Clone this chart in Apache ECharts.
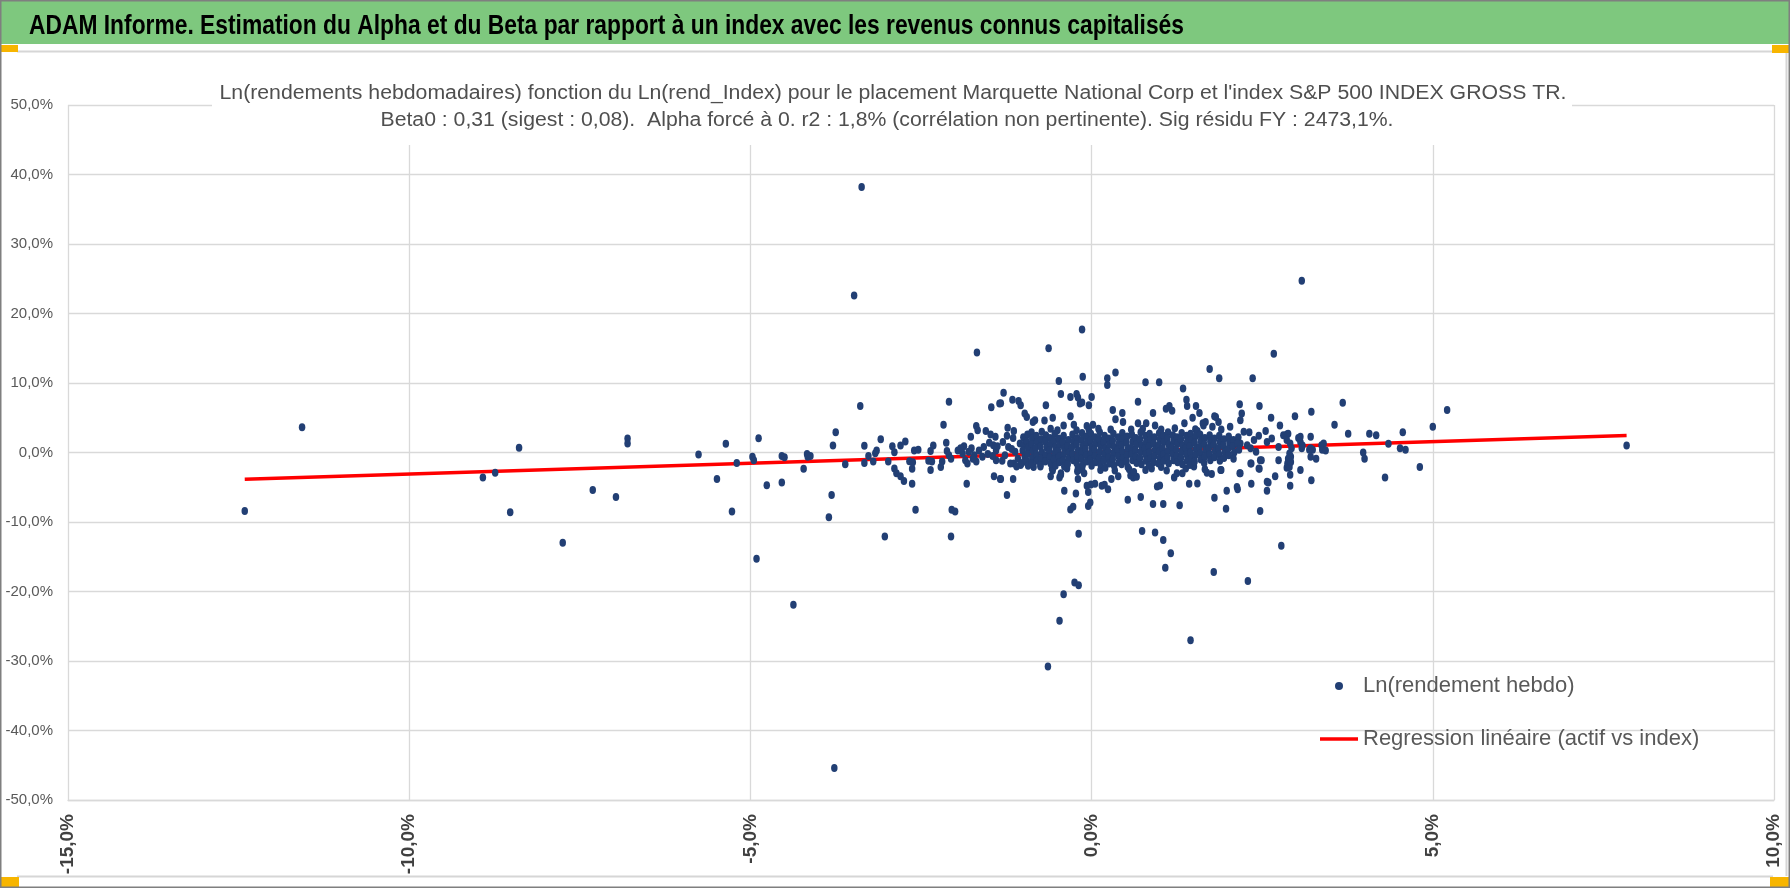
<!DOCTYPE html>
<html>
<head>
<meta charset="utf-8">
<title>ADAM Informe - Alpha et Beta</title>
<script src="https://cdn.jsdelivr.net/npm/echarts@6/dist/echarts.min.js"></script>
<style>
  html, body { margin: 0; padding: 0; background: #fff; }
  #chart { width: 1790px; height: 888px; }
</style>
</head>
<body>
<div id="chart"></div>
<script>
// texts
const headerTitle = 'ADAM Informe. Estimation du Alpha et du Beta par rapport à un index avec les revenus connus capitalisés';
const subtitleLines = [
  "Ln(rendements hebdomadaires) fonction du Ln(rend_Index) pour le placement Marquette National Corp et l'index S&P 500 INDEX GROSS TR.",
  "Beta0 : 0,31 (sigest : 0,08).  Alpha forcé à 0. r2 : 1,8% (corrélation non pertinente). Sig résidu FY : 2473,1%."
];
const pointsName = 'Ln(rendement hebdo)';
const lineName = 'Regression linéaire (actif vs index)';

// axes (in %)
const xMin = -15, xMax = 10, xStep = 5;
const yMin = -50, yMax = 50, yStep = 10;

// regression line ends (x %, y %)
const regressionLine = [[-12.41, -3.85], [7.84, 2.43]];

// isolated points, [index %, asset %]
const farPoints = [
  [-12.41,-8.4],[-11.57,3.65],[-8.92,-3.6],[-8.74,-2.9],[-8.39,0.67],[-8.52,-8.6],[-7.75,-13.0],
  [-7.31,-5.4],[-6.97,-6.4],[-6.80,2.0],[-6.80,1.3],[-5.76,-0.3],[7.84,1.0],
  [-3.37,38.2],[-3.48,22.6],[3.08,24.7],[-0.14,17.7],[-1.68,14.4],[-0.63,15.0],[2.67,14.2],
  [-4.91,-15.3],[-3.03,-12.1],[-2.06,-12.1],[-0.19,-11.7],[0.74,-11.3],[0.93,-11.5],[1.05,-12.6],
  [1.16,-14.5],[1.08,-16.6],[1.79,-17.2],[2.29,-18.5],[2.78,-13.4],[-4.37,-21.9],[-0.25,-18.7],
  [-0.19,-19.1],[-0.41,-20.4],[-0.47,-24.2],[1.45,-27.0],[-0.64,-30.8],[-3.77,-45.4]
];

// points between -5,5% and -1,3% of the index
const leftPoints = [
  [-5.36,1.25],[-5.49,-3.8],[-5.27,-8.5],[-5.20,-1.5],[-4.97,-0.6],[-4.95,-1.1],[-4.88,2.06],[-4.76,-4.7],
  [-4.54,-0.5],[-4.50,-0.7],[-4.54,-4.3],[-4.22,-2.35],[-4.17,-0.2],[-4.12,-0.5],[-4.16,-0.6],[-3.85,-9.3],
  [-3.81,-6.1],[-3.79,1.0],[-3.75,2.9],[-3.61,-1.7],[-3.39,6.7],[-3.33,0.96],[-3.33,-1.5],[-3.27,-0.5],
  [-3.20,-1.3],[-3.17,-0.1],[-3.15,0.3],[-3.09,1.9],[-2.98,-1.3],[-2.92,0.9],[-2.89,0.05],[-2.89,-2.3],
  [-2.86,-3.0],[-2.80,-3.4],[-2.75,-4.1],[-2.80,1.0],[-2.73,1.6],[-2.67,-1.25],[-2.63,-2.35],[-2.63,-4.5],
  [-2.62,-1.4],[-2.60,0.3],[-2.54,0.4],[-2.58,-8.25],[-2.39,-1.2],[-2.36,0.2],[-2.36,-2.5],[-2.34,-1.3],
  [-2.32,1.0],[-2.21,-2.1],[-2.19,-1.3],[-2.17,4.0],[-2.13,1.4],[-2.09,7.3],[-2.12,0.2],[-2.09,-0.4],
  [-2.06,-0.9],[-2.05,-8.25],[-2.00,-8.5],[-1.96,0.3],[-1.89,-0.15],[-1.87,0.9],[-1.85,-1.1],[-1.83,-4.5],
  [-1.82,-1.6],[-1.77,2.25],[-1.76,0.6],[-1.72,-0.4],[-1.69,3.8],[-1.67,3.2],[-1.69,-1.3],[-1.65,0.3],
  [-1.60,-0.6],[-1.55,3.1],[-1.48,2.6],[-1.47,6.5],[-1.41,2.25],[-1.44,1.05],[-1.40,0.3],[-1.43,-3.4],
  [-1.35,7.05],[-1.34,-3.8],[-1.40,-1.1],[-1.92,0.6],[-1.80,0.1],[-1.74,-0.9],[-1.58,0.8],[-1.52,-0.2],
  [-1.50,1.4],[-1.45,-0.5],[-1.38,0.9]
];

// points around the centre, outside the dense band
const centrePoints = [
  [-0.48,10.3],[-0.13,10.9],[0.23,10.7],[0.23,9.7],[0.35,11.5],[0.79,10.1],[0.99,10.1],[1.73,12.0],
  [1.87,10.7],[2.36,10.7],[1.34,9.2],[-1.29,8.6],[-1.33,7.1],[-0.45,8.4],[-0.31,8.0],[-0.22,8.4],
  [-0.20,7.9],[-0.17,7.05],[-0.14,7.2],[-0.04,6.8],[0.0,8.0],[-1.16,7.6],[-1.07,7.4],[-1.04,6.8],
  [-0.67,6.8],[0.68,7.3],[1.39,7.6],[1.40,6.7],[1.14,6.7],[1.09,6.3],[1.18,6.0],[1.53,6.7],
  [2.17,6.95],[2.46,6.7],[0.31,6.1],[0.45,5.7],[0.90,5.7],[1.58,5.7],[1.80,5.2],[2.20,5.6],
  [2.18,4.65],[2.98,5.2],[2.63,5.0],[-0.98,5.6],[-0.95,5.1],[-0.86,4.4],[-0.83,4.65],[-0.69,4.6],
  [-0.57,5.0],[-0.31,5.2],[0.35,4.8],[0.46,4.4],[0.68,4.2],[0.80,4.2],[0.93,3.9],[1.36,4.2],
  [1.48,5.0],[1.63,4.2],[1.67,4.4],[1.86,4.4],[1.77,3.7],[1.90,3.3],[2.03,3.7],[2.31,2.9],
  [2.55,3.1],[2.76,3.9],[2.86,2.6],[3.03,2.1],[-1.23,3.55],[-1.14,3.1],[-0.88,2.9],[-0.73,3.0],
  [-0.41,3.9],[-0.26,4.0],[-0.22,3.2],[-0.07,3.8],[0.02,4.0],[-0.04,3.2],[1.52,3.35],[1.64,3.9],
  [1.82,5.1],[2.88,2.7],[2.23,3.0],[-0.60,3.4],[-0.50,3.2],[0.10,3.4],[0.28,3.3],[0.58,3.3],
  [0.75,3.4],[1.02,3.3],[1.22,3.5],[1.55,3.1],
  [-1.33,-3.8],[-1.15,-3.8],[-1.24,-6.1],[-0.60,-3.4],[-0.57,-2.3],[-0.47,-3.6],[-0.45,-3.0],[-0.40,-5.5],
  [-0.23,-5.9],[-0.20,-3.8],[-0.31,-8.2],[-0.27,-7.8],[-0.07,-4.8],[-0.01,-4.6],[-0.05,-5.7],[-0.05,-7.7],
  [-0.02,-7.2],[0.05,-4.5],[0.15,-4.8],[0.19,-4.65],[0.24,-5.3],[0.29,-3.8],[0.39,-3.4],[0.13,-2.5],
  [0.53,-6.8],[0.61,-3.6],[0.66,-3.5],[0.72,-6.4],[0.90,-7.4],[0.96,-4.9],[1.00,-4.75],[1.05,-7.4],
  [1.21,-3.6],[1.25,-3.0],[1.33,-3.0],[1.29,-7.6],[1.43,-4.5],[1.55,-4.45],[1.66,-2.4],[1.69,-2.9],
  [1.76,-3.1],[1.80,-6.5],[1.90,-2.5],[1.98,-5.5],[1.97,-8.1],[2.14,-5.3],[2.17,-3.0],[2.34,-4.5],
  [2.34,-1.6],[2.47,-8.4],[2.46,-2.35],[2.49,-1.1],[2.57,-5.5],[2.59,-4.3],[2.69,-3.4],[2.86,-2.2],
  [2.91,-4.8],[2.91,-3.2],[2.89,-1.1],[2.92,-0.6],[2.74,-1.1],[-0.58,-2.3],[-0.45,-3.2],[-0.21,-2.7],
  [0.57,-3.3],[0.79,-2.5],[-1.14,-1.6],[-1.04,-1.8],[-0.85,-2.1],[-0.75,-2.0],[-0.57,-2.6],[-0.55,-1.6],
  [-0.36,-2.3],[-0.19,-2.5],[-0.14,-2.3],[-0.11,-3.0],[0.34,-2.6],[0.55,-2.4],[0.62,-2.8],[0.88,-2.3],
  [1.02,-2.1],[1.10,-2.6],[1.38,-2.3],[1.50,-2.0]
];

// right side, above 2% of the index
const rightPoints = [
  [2.18,1.3],[2.28,1.05],[2.33,0.6],[2.41,0.1],[2.38,1.8],[2.45,2.4],[2.57,1.5],[2.64,2.0],
  [2.74,0.8],[2.81,2.5],[2.86,1.8],[2.91,1.3],[2.93,0.6],[2.90,-0.15],[2.88,-0.9],[2.87,-1.6],
  [2.90,-2.1],[2.92,-1.35],[3.06,1.5],[3.08,0.6],[3.21,0.6],[2.33,-1.6],[2.47,-1.1],[2.45,-2.3],
  [2.18,-3.0],[1.89,-2.5],[2.13,-4.95],[2.57,-4.2],
  [3.06,2.25],[3.09,1.0],[3.06,-2.5],[3.22,5.85],[3.21,2.25],[3.19,0.4],[3.24,0.4],[3.21,-0.6],
  [3.29,-0.9],[3.22,-4.0],[3.37,1.05],[3.40,1.3],[3.38,0.4],[3.43,0.3],[3.56,4.0],[3.68,7.15],
  [3.76,2.7],[3.98,0.0],[4.00,-0.9],[4.07,2.7],[4.17,2.5],[4.30,-3.6],[4.35,1.25],[4.52,0.6],
  [4.60,0.4],[4.56,2.9],[4.81,-2.1],[5.00,3.7],[5.21,6.1]
];

// dense band near zero (estimated, it is a solid mass in the picture)
const bandPoints = [
  [-1.30,1.5],[-1.27,-0.4],[-1.22,0.8],[-1.19,-1.6],[-1.15,2.1],[-1.12,0.1],[-1.08,-0.9],[-1.05,1.3],
  [-1.31,-1.2],[-1.24,2.4],[-1.10,-2.0],[-1.17,0.5],
  [-1.00,2.2],[-0.99,1.1],[-1.01,0.3],[-0.98,-0.6],[-1.02,-1.5],
  [-0.94,2.6],[-0.95,1.6],[-0.93,0.7],[-0.94,-0.2],[-0.95,-1.2],[-0.93,-1.9],
  [-0.87,2.0],[-0.88,1.2],[-0.86,0.2],[-0.87,-0.8],[-0.88,-1.6],
  [-0.81,2.4],[-0.80,1.5],[-0.82,0.6],[-0.81,-0.3],[-0.80,-1.2],
  [-0.74,1.9],[-0.75,0.9],[-0.73,0.0],[-0.74,-0.9],[-0.75,-1.8],
  [-0.67,2.5],[-0.68,1.6],[-0.66,0.7],[-0.67,-0.4],[-0.68,-1.3],
  [-0.61,2.1],[-0.60,1.2],[-0.62,0.3],[-0.61,-0.7],[-0.60,-1.6],
  [-0.54,2.7],[-0.55,1.7],[-0.53,0.8],[-0.54,-0.1],[-0.55,-1.0],[-0.53,-1.9],
  [-0.48,2.0],[-0.47,1.1],[-0.49,0.2],[-0.48,-0.6],[-0.47,-1.4],
  [-0.41,2.4],[-0.42,1.5],[-0.40,0.6],[-0.41,-0.3],[-0.42,-1.2],[-0.40,-2.0],
  [-0.34,1.8],[-0.35,0.9],[-0.33,0.0],[-0.34,-0.9],[-0.35,-1.7],
  [-0.28,2.6],[-0.27,1.6],[-0.29,0.7],[-0.28,-0.2],[-0.27,-1.1],
  [-0.21,2.1],[-0.22,1.2],[-0.20,0.3],[-0.21,-0.6],[-0.22,-1.5],[-0.20,-2.1],
  [-0.14,2.8],[-0.15,1.8],[-0.13,0.9],[-0.14,0.0],[-0.15,-0.9],[-0.13,-1.8],
  [-0.08,2.3],[-0.07,1.4],[-0.09,0.5],[-0.08,-0.4],[-0.07,-1.3],
  [-0.01,2.7],[-0.02,1.7],[0.00,0.8],[-0.01,-0.1],[-0.02,-1.0],[0.00,-1.9],
  [0.05,2.2],[0.06,1.3],[0.04,0.4],[0.05,-0.5],[0.06,-1.4],
  [0.12,2.9],[0.11,1.9],[0.13,1.0],[0.12,0.1],[0.11,-0.8],[0.13,-1.7],
  [0.19,2.4],[0.18,1.5],[0.20,0.6],[0.19,-0.3],[0.18,-1.2],[0.20,-2.2],
  [0.25,2.0],[0.26,1.1],[0.24,0.2],[0.25,-0.7],[0.26,-1.6],
  [0.32,2.7],[0.31,1.7],[0.33,0.8],[0.32,-0.1],[0.31,-1.0],[0.33,-1.9],
  [0.39,2.2],[0.40,1.3],[0.38,0.4],[0.39,-0.5],[0.40,-1.4],
  [0.45,2.8],[0.46,1.9],[0.44,1.0],[0.45,0.1],[0.46,-0.8],[0.44,-1.7],
  [0.52,2.3],[0.51,1.4],[0.53,0.5],[0.52,-0.4],[0.51,-1.3],[0.53,-2.1],
  [0.59,2.6],[0.60,1.6],[0.58,0.7],[0.59,-0.2],[0.60,-1.1],
  [0.65,2.1],[0.66,1.2],[0.64,0.3],[0.65,-0.6],[0.66,-1.5],
  [0.72,2.9],[0.71,1.9],[0.73,1.0],[0.72,0.1],[0.71,-0.8],[0.73,-1.7],
  [0.79,2.4],[0.80,1.5],[0.78,0.6],[0.79,-0.3],[0.80,-1.2],
  [0.85,2.7],[0.86,1.8],[0.84,0.9],[0.85,0.0],[0.86,-0.9],[0.84,-1.9],
  [0.92,2.2],[0.91,1.3],[0.93,0.4],[0.92,-0.5],[0.91,-1.4],
  [0.99,2.8],[1.00,1.9],[0.98,1.0],[0.99,0.1],[1.00,-0.8],[0.98,-1.6],
  [1.05,2.4],[1.06,1.5],[1.04,0.6],[1.05,-0.3],[1.06,-1.2],
  [1.12,2.9],[1.11,2.0],[1.13,1.1],[1.12,0.2],[1.11,-0.7],[1.13,-1.6],
  [1.19,2.5],[1.20,1.6],[1.18,0.7],[1.19,-0.2],[1.20,-1.1],
  [1.25,2.2],[1.26,1.3],[1.24,0.4],[1.25,-0.5],[1.26,-1.4],
  [1.32,2.8],[1.31,1.9],[1.33,1.0],[1.32,0.1],[1.31,-0.8],[1.33,-1.7],
  [1.39,2.4],[1.40,1.5],[1.38,0.6],[1.39,-0.3],[1.40,-1.2],
  [1.45,2.7],[1.46,1.8],[1.44,0.9],[1.45,0.0],[1.46,-0.9],[1.44,-1.8],
  [1.52,2.3],[1.51,1.4],[1.53,0.5],[1.52,-0.4],[1.51,-1.3],
  [1.59,2.6],[1.60,1.7],[1.58,0.8],[1.59,-0.1],[1.60,-1.0],
  [1.66,2.1],[1.65,1.2],[1.67,0.3],[1.66,-0.6],[1.65,-1.5],
  [1.73,2.5],[1.74,1.6],[1.72,0.7],[1.73,-0.2],[1.74,-1.1],
  [1.80,2.0],[1.79,1.1],[1.81,0.2],[1.80,-0.7],
  [1.87,2.4],[1.88,1.5],[1.86,0.6],[1.87,-0.3],[1.88,-1.2],
  [1.94,1.9],[1.93,1.0],[1.95,0.1],[1.94,-0.8],
  [2.01,2.3],[2.02,1.4],[2.00,0.5],[2.01,-0.4],
  [2.08,1.8],[2.07,0.9],[2.09,0.0],[2.08,-0.9],
  [2.15,2.2],[2.14,1.3],[2.16,0.4]
];

const allPoints = farPoints.concat(leftPoints, centrePoints, rightPoints, bandPoints);

function pct(v) {
  return v.toFixed(1).replace('.', ',') + '%';
}

// horizontal scale so a text fills the width it has in the picture
const measureCtx = document.createElement('canvas').getContext('2d');
function fitScale(text, font, width) {
  measureCtx.font = font;
  return width / measureCtx.measureText(text).width;
}

const headerFont = "bold 28px 'Liberation Sans', sans-serif";
const subFont = "20px 'Liberation Sans', sans-serif";

var dom = document.getElementById('chart');
var myChart = echarts.init(dom, null, { renderer: 'canvas' });

var option = {
  backgroundColor: '#ffffff',
  animation: false,
  graphic: [
    { type: 'rect', z: 0, shape: { x: 0, y: 0, width: 1790, height: 44 }, style: { fill: '#7ec87e' } },
    {
      type: 'text', z: 1, x: 29, y: 26,
      scaleX: fitScale(headerTitle, headerFont, 1155),
      style: { text: headerTitle, font: headerFont, fill: '#000000', textAlign: 'left', textVerticalAlign: 'middle' }
    },
    { type: 'line', z: 1, shape: { x1: 17, y1: 51.5, x2: 1773, y2: 51.5 }, style: { stroke: '#d6d6d6', lineWidth: 2 } },
    { type: 'line', z: 1, shape: { x1: 17, y1: 876.5, x2: 1773, y2: 876.5 }, style: { stroke: '#d6d6d6', lineWidth: 2 } },
    { type: 'line', z: 1, shape: { x1: 1786.5, y1: 53, x2: 1786.5, y2: 876 }, style: { stroke: '#d6d6d6', lineWidth: 2 } },
    { type: 'rect', z: 1, shape: { x: 0, y: 45, width: 18, height: 7 }, style: { fill: '#f7b500' } },
    { type: 'rect', z: 1, shape: { x: 1772, y: 45, width: 18, height: 8 }, style: { fill: '#f7b500' } },
    { type: 'rect', z: 1, shape: { x: 0, y: 877, width: 19, height: 11 }, style: { fill: '#f7b500' } },
    { type: 'rect', z: 1, shape: { x: 1770, y: 877, width: 20, height: 11 }, style: { fill: '#f7b500' } },
    { type: 'rect', z: 2, shape: { x: 0.75, y: 0.75, width: 1788.5, height: 886.5 }, style: { fill: null, stroke: '#7f7f7f', lineWidth: 1.5 } },
    // white box of the chart title, over the grid lines
    { type: 'rect', z: 5, shape: { x: 212, y: 58, width: 1360, height: 87 }, style: { fill: '#ffffff' } },
    {
      type: 'text', z: 6, x: 893, y: 93,
      scaleX: fitScale(subtitleLines[0], subFont, 1347),
      style: { text: subtitleLines[0], font: subFont, fill: '#4f4f4f', textAlign: 'center', textVerticalAlign: 'middle' }
    },
    {
      type: 'text', z: 6, x: 887, y: 120,
      scaleX: fitScale(subtitleLines[1], subFont, 1013),
      style: { text: subtitleLines[1], font: subFont, fill: '#4f4f4f', textAlign: 'center', textVerticalAlign: 'middle' }
    }
  ],
  legend: {
    orient: 'vertical',
    left: 1315,
    top: 670,
    itemWidth: 38,
    itemHeight: 8,
    itemGap: 31,
    textStyle: { fontFamily: "'Liberation Sans', sans-serif", fontSize: 22, color: '#595959' },
    data: [
      { name: pointsName, icon: 'circle' },
      { name: lineName, icon: 'path://M0,0 L38,0 L38,3.5 L0,3.5 Z' }
    ]
  },
  grid: { left: 68, right: 16, top: 105, bottom: 88, containLabel: false, outerBoundsMode: 'none' },
  xAxis: {
    type: 'value',
    min: xMin,
    max: xMax,
    interval: xStep,
    axisLine: { show: true, onZero: false, lineStyle: { color: '#d9d9d9', width: 1.3 } },
    axisTick: { show: false },
    splitLine: { show: true, lineStyle: { color: '#d9d9d9', width: 1.3 } },
    axisLabel: {
      rotate: 90,
      margin: 14,
      formatter: pct,
      fontFamily: "'Liberation Sans', sans-serif",
      fontWeight: 'bold',
      fontSize: 19,
      color: '#404040'
    }
  },
  yAxis: {
    type: 'value',
    min: yMin,
    max: yMax,
    interval: yStep,
    axisLine: { show: false },
    axisTick: { show: false },
    splitLine: { show: true, lineStyle: { color: '#d9d9d9', width: 1.3 } },
    axisLabel: {
      margin: 15,
      formatter: pct,
      fontFamily: "'Liberation Sans', sans-serif",
      fontSize: 15,
      color: '#595959'
    }
  },
  series: [
    {
      name: lineName,
      type: 'line',
      data: regressionLine,
      symbol: 'none',
      z: 2,
      lineStyle: { color: '#ff0000', width: 3.5 },
      itemStyle: { color: '#ff0000' }
    },
    {
      name: pointsName,
      type: 'scatter',
      data: allPoints,
      symbol: 'circle',
      symbolSize: [6.5, 8],
      z: 3,
      itemStyle: { color: '#223f74', opacity: 1 }
    }
  ]
};

if (option && typeof option === 'object') {
  myChart.setOption(option);
}

window.addEventListener('resize', myChart.resize);
</script>
</body>
</html>
